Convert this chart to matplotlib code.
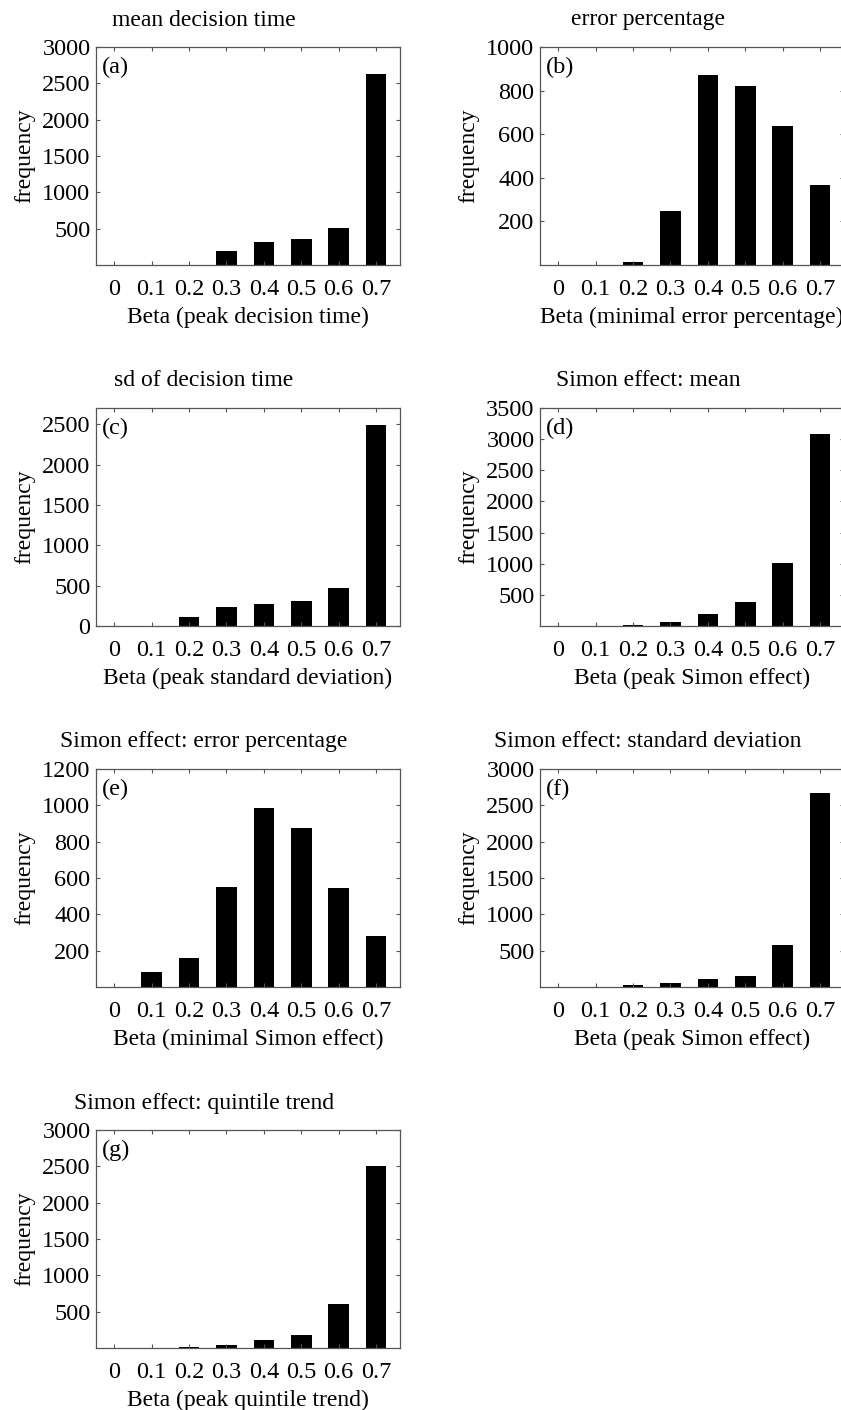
import matplotlib
matplotlib.use("Agg")
import matplotlib.pyplot as plt
import numpy as np

plt.rcParams['font.family'] = ['Liberation Serif', 'DejaVu Serif']

beta = [0, 0.1, 0.2, 0.3, 0.4, 0.5, 0.6, 0.7]
beta_labels = ['0', '0.1', '0.2', '0.3', '0.4', '0.5', '0.6', '0.7']

# frequencies
freq_a = [0, 0, 0, 190, 315, 355, 510, 2630]
freq_b = [0, 0, 15, 246, 871, 822, 639, 368]
freq_c = [0, 0, 110, 237, 274, 308, 466, 2490]
freq_d = [0, 0, 10, 70, 195, 392, 1017, 3085]
freq_e = [0, 85, 157, 548, 988, 873, 543, 282]
freq_f = [0, 0, 25, 50, 106, 152, 575, 2675]
freq_g = [0, 0, 20, 46, 115, 175, 600, 2511]

titles = ['mean decision time', 'error percentage', 'sd of decision time',
          'Simon effect: mean', 'Simon effect: error percentage',
          'Simon effect: standard deviation', 'Simon effect: quintile trend']
xlabels = ['Beta (peak decision time)', 'Beta (minimal error percentage)',
           'Beta (peak standard deviation)', 'Beta (peak Simon effect)',
           'Beta (minimal Simon effect)', 'Beta (peak Simon effect)',
           'Beta (peak quintile trend)']
tags = ['(a)', '(b)', '(c)', '(d)', '(e)', '(f)', '(g)']
ylims = [3000, 1000, 2700, 3500, 1200, 3000, 3000]
yticks = [[500, 1000, 1500, 2000, 2500, 3000],
          [200, 400, 600, 800, 1000],
          [0, 500, 1000, 1500, 2000, 2500],
          [500, 1000, 1500, 2000, 2500, 3000, 3500],
          [200, 400, 600, 800, 1000, 1200],
          [500, 1000, 1500, 2000, 2500, 3000],
          [500, 1000, 1500, 2000, 2500, 3000]]
data = [freq_a, freq_b, freq_c, freq_d, freq_e, freq_f, freq_g]

W, H = 841, 1410
fig = plt.figure(figsize=(W / 100, H / 100), dpi=100)

col_left = [96, 540]
ax_w = 304
row_top = [47, 408, 769, 1130]
ax_h = 218

for i in range(7):
    r, c = i // 2, i % 2
    left = col_left[c]
    top = row_top[r]
    ax = fig.add_axes([left / W, 1 - (top + ax_h) / H, ax_w / W, ax_h / H])
    ax.bar(beta, data[i], width=0.055, color='black', linewidth=0)
    ax.set_xlim(-0.049, 0.764)
    ax.set_ylim(0, ylims[i])
    ax.set_xticks(beta)
    ax.set_xticklabels(beta_labels)
    ax.set_yticks(yticks[i])
    ax.tick_params(direction='in', length=3, width=0.8, top=True, right=True,
                   labelsize=17.5, color='#555555')
    ax.tick_params(axis='x', pad=10)
    ax.tick_params(axis='y', pad=4)
    for s in ax.spines.values():
        s.set_color('#555555')
        s.set_linewidth(0.9)
    ax.set_xlabel(xlabels[i], fontsize=17, labelpad=5)
    ax.set_ylabel('frequency', fontsize=17, labelpad=5)
    ax.text(0.355, 1 + 27 / ax_h, titles[i], transform=ax.transAxes,
            ha='center', va='center', fontsize=17)
    ax.text(0.02, 0.955, tags[i], transform=ax.transAxes, ha='left', va='top',
            fontsize=17.5)

fig.savefig('out.png', dpi=100)
